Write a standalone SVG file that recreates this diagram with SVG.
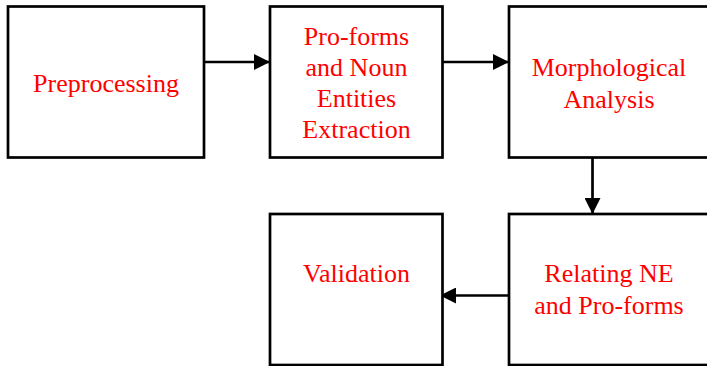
<svg xmlns="http://www.w3.org/2000/svg" width="707" height="366" viewBox="0 0 707 366">
<defs>
<style>
.box{fill:#fff;stroke:#000;stroke-width:2.7}
.lbl{font-family:"Liberation Serif","Times New Roman",serif;font-size:26px;fill:#ff0000;text-anchor:middle}
.edge{stroke:#000;stroke-width:2.7;fill:none}
</style>
<marker id="ah" markerUnits="userSpaceOnUse" markerWidth="16" markerHeight="16" refX="16" refY="8" orient="auto">
<path d="M0,0 L16,8 L0,16 Z" fill="#000"/>
</marker>
</defs>
<rect width="707" height="366" fill="#fff"/>
<g id="connectors">
<line class="edge" x1="204" y1="62" x2="270" y2="62" marker-end="url(#ah)"/>
<line class="edge" x1="442" y1="62" x2="509" y2="62" marker-end="url(#ah)"/>
<line class="edge" x1="592.5" y1="157" x2="592.5" y2="214" marker-end="url(#ah)"/>
<line class="edge" x1="509" y1="295.5" x2="440" y2="295.5" marker-end="url(#ah)"/>
</g>
<g id="preprocessing">
<rect class="box" x="8" y="6.5" width="196" height="151"/>
<text class="lbl" x="106" y="92">Preprocessing</text>
</g>
<g id="proforms">
<rect class="box" x="270" y="6.5" width="172.5" height="151"/>
<text class="lbl" x="356.5" y="45">Pro-forms</text>
<text class="lbl" x="356.5" y="76">and Noun</text>
<text class="lbl" x="356.5" y="107">Entities</text>
<text class="lbl" x="356.5" y="137.5">Extraction</text>
</g>
<g id="morphological">
<rect class="box" x="509" y="6.5" width="201" height="151"/>
<text class="lbl" x="609" y="76">Morphological</text>
<text class="lbl" x="609" y="107.5">Analysis</text>
</g>
<g id="relating">
<rect class="box" x="509" y="214" width="201" height="151"/>
<text class="lbl" x="609" y="282">Relating NE</text>
<text class="lbl" x="609" y="314">and Pro-forms</text>
</g>
<g id="validation">
<rect class="box" x="270" y="214" width="172.5" height="151"/>
<text class="lbl" x="356.5" y="282">Validation</text>
</g>
</svg>
